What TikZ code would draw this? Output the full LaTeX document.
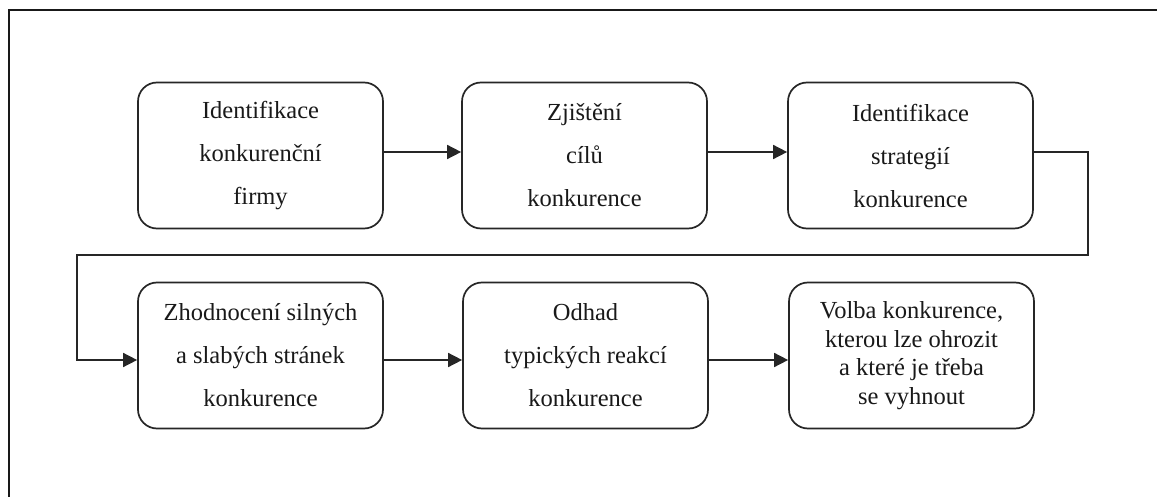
\documentclass[tikz,border=0pt]{standalone}
\usepackage{fontspec}
\setmainfont{Liberation Serif}
\usetikzlibrary{arrows.meta,positioning}
\tikzset{
  stepbox/.style={draw=black!85, line width=1.7pt, rounded corners=19pt,
    minimum width=245pt, minimum height=146pt, align=center, inner sep=0pt,
    font=\fontsize{24.5}{43}\selectfont, text=black!90},
  conn/.style={draw=black!85, line width=1.6pt, -{Triangle[length=14pt,width=14pt]}},
  frame/.style={draw=black!90, line width=2.4pt}
}
\begin{document}
\begin{tikzpicture}[x=1pt,y=-1pt]
\useasboundingbox (0,0) rectangle (1157,497);
\fill[white] (0,0) rectangle (1157,497);
\draw[frame] (9,497) -- (9,10) -- (1157,10);
\node[stepbox] (b1) at (260.5,155.5) {Identifikace\\konkurenční\\firmy};
\node[stepbox] (b2) at (584.5,155.5) {Zjištění\\cílů\\konkurence};
\node[stepbox] (b3) at (910.5,155.5) {Identifikace\\strategií\\konkurence};
\node[stepbox] (b4) at (260.5,355.5) {Zhodnocení silných\\a slabých stránek\\konkurence};
\node[stepbox] (b5) at (585.5,355.5) {Odhad\\typických reakcí\\konkurence};
\node[stepbox, font=\fontsize{24.5}{28.5}\selectfont] (b6) at (911.5,355.5) {Volba konkurence,\\kterou lze ohrozit\\a které je třeba\\se vyhnout};
\coordinate (c1) at (1088,152);
\coordinate (c2) at (1088,255);
\coordinate (c3) at (77,255);
\coordinate (c4) at (77,360);
\draw[conn] ([yshift=3.5pt]b1.east) -- ([yshift=3.5pt]b2.west);
\draw[conn] ([yshift=3.5pt]b2.east) -- ([yshift=3.5pt]b3.west);
\draw[conn] ([yshift=3.5pt]b3.east) -- (c1) -- (c2) -- (c3) -- (c4) -- (c4 -| b4.west);
\draw[conn] ([yshift=-4.5pt]b4.east) -- ([yshift=-4.5pt]b5.west);
\draw[conn] ([yshift=-4.5pt]b5.east) -- ([yshift=-4.5pt]b6.west);
\end{tikzpicture}
\end{document}
